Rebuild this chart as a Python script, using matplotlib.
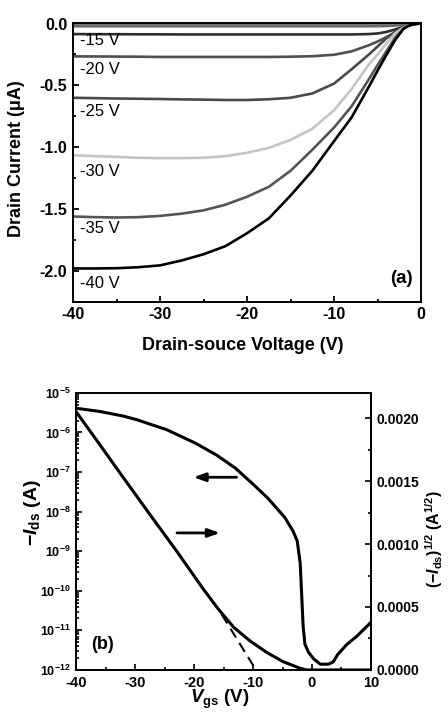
import numpy as np
import matplotlib
matplotlib.use("Agg")
import matplotlib.pyplot as plt
from matplotlib.ticker import MultipleLocator, FixedLocator, LogLocator, NullFormatter, FuncFormatter

plt.rcParams['font.family'] = ['Liberation Sans', 'DejaVu Sans']
plt.rcParams['font.weight'] = 'bold'
plt.rcParams['axes.unicode_minus'] = False
plt.rcParams['mathtext.fontset'] = 'custom'
plt.rcParams['mathtext.rm'] = 'Liberation Sans:bold'
plt.rcParams['mathtext.bf'] = 'Liberation Sans:bold'
plt.rcParams['mathtext.it'] = 'Liberation Sans:italic:bold'
plt.rcParams['mathtext.sf'] = 'Liberation Sans:bold'

# ---------------- (a) output characteristics ----------------
vd = [-40, -37.5, -35, -32.5, -30, -27.5, -25, -22.5, -20, -17.5, -15, -12.5, -10,
      -8, -6, -5, -4, -3, -2, -1.5, -1, -0.5, 0]
id_m5 = [-0.004, -0.004, -0.004, -0.004, -0.004, -0.004, -0.004, -0.004, -0.004, -0.004, -0.004,
         -0.004, -0.004, -0.004, -0.004, -0.004, -0.004, -0.003, -0.002, -0.0015, -0.001, -0.0005, 0]
id_m10 = [-0.022, -0.022, -0.022, -0.022, -0.022, -0.022, -0.022, -0.022, -0.022, -0.022, -0.022,
          -0.022, -0.022, -0.022, -0.022, -0.021, -0.02, -0.016, -0.01, -0.007, -0.003, -0.001, 0]
id_m15 = [-0.085, -0.086, -0.086, -0.087, -0.087, -0.088, -0.088, -0.088, -0.088, -0.088, -0.088,
          -0.088, -0.088, -0.088, -0.085, -0.08, -0.068, -0.048, -0.025, -0.014, -0.006, -0.0015, 0]
id_m20 = [-0.265, -0.266, -0.267, -0.268, -0.27, -0.27, -0.27, -0.27, -0.27, -0.27, -0.268,
          -0.264, -0.252, -0.225, -0.175, -0.145, -0.11, -0.07, -0.032, -0.017, -0.007, -0.002, 0]
id_m25 = [-0.600, -0.603, -0.606, -0.608, -0.61, -0.613, -0.615, -0.618, -0.618, -0.612, -0.60,
          -0.565, -0.485, -0.37, -0.25, -0.185, -0.12, -0.07, -0.03, -0.015, -0.006, -0.0015, 0]
id_m30 = [-1.065, -1.072, -1.078, -1.085, -1.088, -1.088, -1.085, -1.072, -1.045, -1.005, -0.94,
          -0.85, -0.70, -0.53, -0.33, -0.25, -0.16, -0.08, -0.03, -0.016, -0.006, -0.0015, 0]
id_m35 = [-1.56, -1.565, -1.568, -1.565, -1.555, -1.537, -1.51, -1.465, -1.40, -1.32, -1.19,
          -1.02, -0.84, -0.67, -0.45, -0.335, -0.225, -0.115, -0.04, -0.02, -0.008, -0.002, 0]
id_m40 = [-1.98, -1.98, -1.978, -1.97, -1.955, -1.915, -1.865, -1.80, -1.695, -1.575, -1.39,
          -1.19, -0.95, -0.76, -0.51, -0.38, -0.255, -0.135, -0.04, -0.02, -0.008, -0.002, 0]

gate_labels = ['-15 V', '-20 V', '-25 V', '-30 V', '-35 V', '-40 V']
label_y = [-0.14, -0.37, -0.71, -1.20, -1.66, -2.10]

# ---------------- (b) transfer characteristics ----------------
vg_log = [-40, -36, -32, -29.7, -24.6, -19.8, -16.2, -13, -9.9, -7.5, -4.6, -3.2, -2.5, -2.0,
          -1.75, -1.5, -1.2, -0.6, 0.3, 1.4, 2.8, 3.6, 4.4, 5.9, 7.6, 10]
ids_log = [4.1e-6, 3.4e-6, 2.6e-6, 2.1e-6, 1.17e-6, 5.4e-7, 2.7e-7, 1.26e-7, 4.8e-8, 2.2e-8,
           7.1e-9, 3.2e-9, 1.8e-9, 5.0e-10, 7.9e-11, 1.26e-11, 4.5e-12, 2.8e-12, 1.9e-12,
           1.4e-12, 1.4e-12, 1.6e-12, 2.5e-12, 4.4e-12, 7.1e-12, 1.6e-11]

vg_sqrt = [-40, -36, -32.5, -27.5, -22.9, -18.4, -16, -13.3, -10.5, -7.7, -4.9, -2, -0.9, 10]
ids_sqrt = [2.05e-3, 1.79e-3, 1.56e-3, 1.235e-3, 0.94e-3, 0.64e-3, 0.49e-3, 0.34e-3, 0.23e-3,
            0.14e-3, 0.066e-3, 0.013e-3, 0.0, 0.0]

fit_vg = [-15.3, -9.5]
fit_sqrt = [0.44e-3, 0.0]

fig = plt.figure(figsize=(4.48, 7.17), dpi=100)

# ---- panel (a)
ax = fig.add_axes([0.163, 0.579, 0.777, 0.389])
curve_styles = [
    (id_m5, '#7a7a7a'), (id_m10, '#6a6a6a'), (id_m15, '#2e2e2e'), (id_m20, '#4f4f4f'),
    (id_m25, '#4a4a4a'), (id_m30, '#c4c4c4'), (id_m35, '#555555'), (id_m40, '#000000'),
]
for ys, c in curve_styles:
    ax.plot(vd, ys, color=c, lw=1.9, solid_capstyle='round', solid_joinstyle='round')
for txt, yy in zip(gate_labels, label_y):
    ax.text(-39.2, yy, txt, fontsize=12, fontweight='normal', ha='left', va='center')
ax.text(-2.3, -2.06, '(a)', fontsize=13.5, fontweight='bold', ha='center', va='center')
ax.set_xlim(-40, 0)
ax.set_ylim(-2.25, 0.005)
ax.xaxis.set_major_locator(MultipleLocator(10))
ax.xaxis.set_minor_locator(MultipleLocator(5))
ax.set_yticks([0.0, -0.5, -1.0, -1.5, -2.0])
ax.yaxis.set_minor_locator(FixedLocator([-0.25, -0.75, -1.25, -1.75, -2.25]))
ax.yaxis.set_major_formatter(FuncFormatter(lambda v, p: f'{v:.1f}'.replace('-0.0', '0.0')))
ax.tick_params(which='both', direction='in', top=False, right=False, labelsize=11.5, width=1.3)
ax.tick_params(which='major', length=4, pad=4)
ax.tick_params(which='minor', length=2.5)
for s in ax.spines.values():
    s.set_linewidth(1.4)
ax.set_xlabel('Drain-souce Voltage (V)', fontsize=13, fontweight='bold')
ax.set_ylabel('Drain Current (\u03bcA)', fontsize=13, fontweight='bold')
ax.xaxis.set_label_coords(0.489, -0.125)
ax.yaxis.set_label_coords(-0.138, 0.513)

# ---- panel (b)
bx = fig.add_axes([0.170, 0.0656, 0.658, 0.3864])
bx.plot(vg_log, ids_log, color='black', lw=2.2, solid_joinstyle='round')
bx.set_yscale('log')
bx.set_xlim(-40, 10)
bx.set_ylim(1e-12, 1e-5)
bx.xaxis.set_major_locator(MultipleLocator(10))
bx.xaxis.set_minor_locator(MultipleLocator(5))
bx.yaxis.set_major_locator(LogLocator(base=10, numticks=20))
bx.yaxis.set_minor_locator(LogLocator(base=10, subs=np.arange(2, 10), numticks=20))
bx.yaxis.set_minor_formatter(NullFormatter())
bx.yaxis.set_major_formatter(FuncFormatter(lambda v, p: r'$\mathbf{10^{%d}}$' % int(round(np.log10(v)))))
bx.tick_params(which='both', direction='in', top=False, right=False, width=1.2)
bx.tick_params(axis='x', labelsize=10.5)
bx.tick_params(axis='y', labelsize=9)
bx.tick_params(which='major', length=4, pad=4)
bx.tick_params(which='minor', length=2)
for s in bx.spines.values():
    s.set_linewidth(1.4)
bx.set_ylabel(r'$-\mathit{I}_{\mathrm{ds}}$ (A)', fontsize=14, fontweight='bold')
bx.yaxis.set_label_coords(-0.112, 0.567)
bx.set_xlabel(r'$\mathit{V}_{\mathrm{gs}}$ (V)', fontsize=13.5, fontweight='bold')
bx.xaxis.set_label_coords(0.488, -0.065)

tx = bx.twinx()
tx.plot(vg_sqrt, ids_sqrt, color='black', lw=2.2, solid_joinstyle='round')
tx.plot(fit_vg, fit_sqrt, color='black', lw=1.5, ls=(0, (5, 3)))
tx.set_ylim(0, 0.0022)
tx.set_yticks([0.0, 0.0005, 0.0010, 0.0015, 0.0020])
tx.yaxis.set_minor_locator(MultipleLocator(0.00025))
tx.yaxis.set_major_formatter(FuncFormatter(lambda v, p: f'{v:.4f}'))
tx.tick_params(which='both', direction='in', labelsize=10, width=1.2)
tx.tick_params(which='major', length=4, pad=4)
tx.tick_params(which='minor', length=2.5)
for s in tx.spines.values():
    s.set_linewidth(1.4)
tx.set_ylabel(r'$(-\mathit{I}_{\mathrm{ds}})^{1/2}$ $(\mathrm{A}^{1/2})$', fontsize=11.5, fontweight='bold')
tx.yaxis.set_label_coords(1.178, 0.473)

arrow_props = dict(arrowstyle='-|>,head_length=0.7,head_width=0.25', lw=2, color='black',
                   shrinkA=0, shrinkB=0)
bx.annotate('', xy=(-20.1, 7.4e-8), xytext=(-12.8, 7.4e-8), arrowprops=arrow_props)
bx.annotate('', xy=(-15.6, 2.9e-9), xytext=(-22.9, 2.9e-9), arrowprops=arrow_props)
bx.text(-35.6, 4.4e-12, '(b)', fontsize=13, fontweight='bold', ha='center', va='center')

fig.savefig('out.png', dpi=100)
